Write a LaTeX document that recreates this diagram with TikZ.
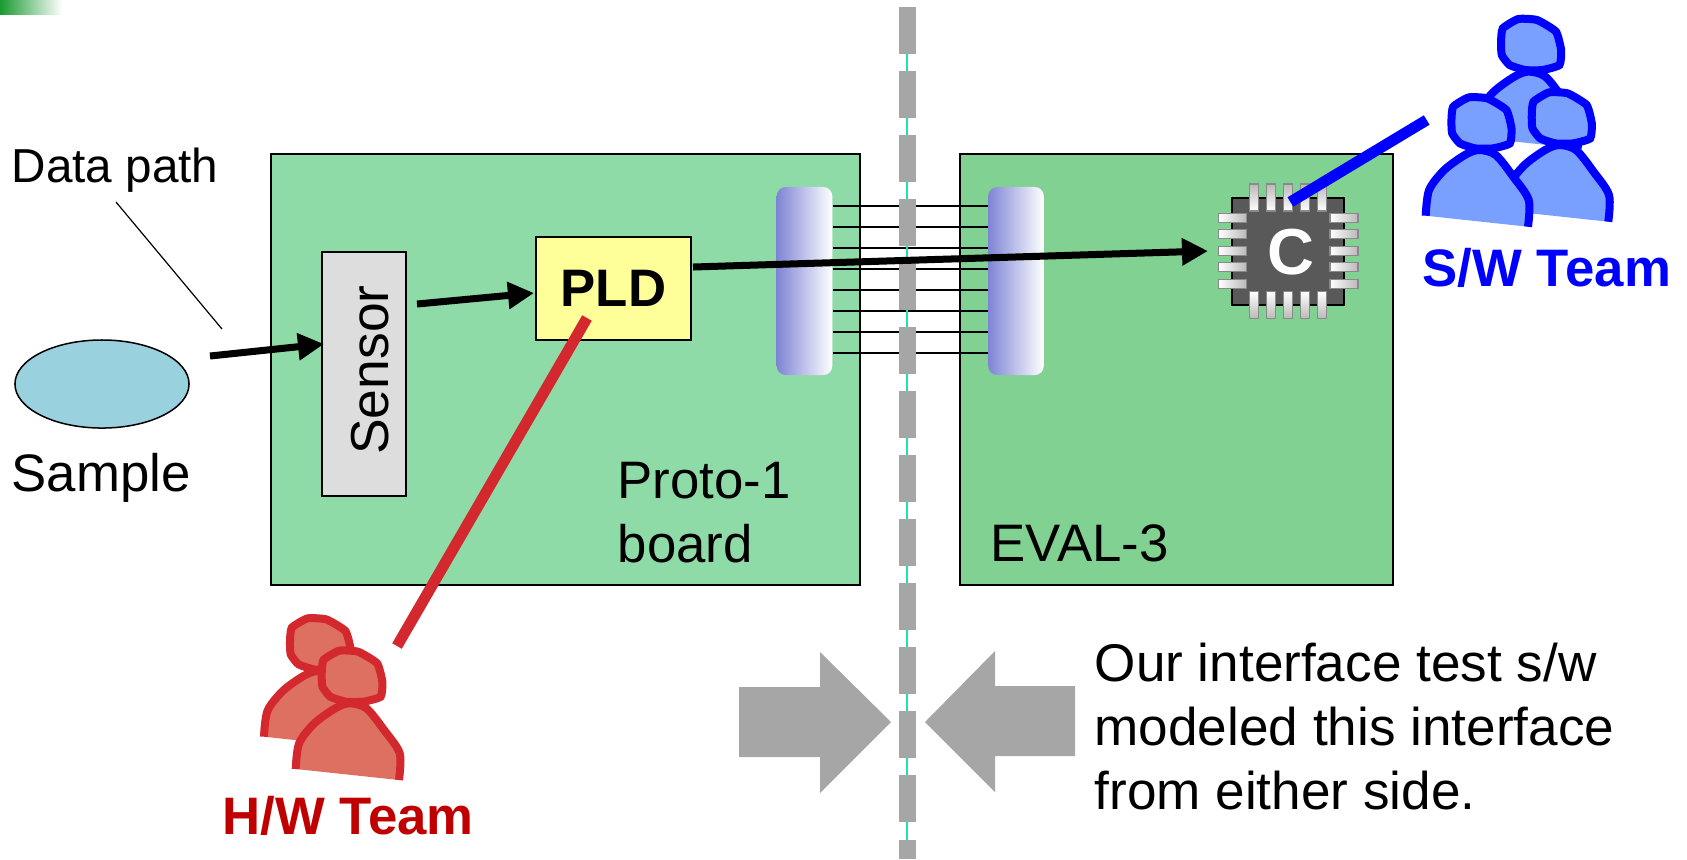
\documentclass[tikz,border=0pt]{standalone}
\usepackage{fontspec}
\setmainfont{Liberation Sans}
\usetikzlibrary{arrows.meta,shapes.geometric}
\definecolor{protogreen}{HTML}{8FDBA8}
\definecolor{evalgreen}{HTML}{80D192}
\definecolor{markgreen}{HTML}{1A9A30}
\definecolor{sampleblue}{HTML}{99D1DE}
\definecolor{blockblue}{HTML}{7F85D5}
\definecolor{sensorgrey}{HTML}{DDDDDD}
\definecolor{pldyellow}{HTML}{FFFF99}
\definecolor{splitgrey}{HTML}{A6A6A6}
\definecolor{splitcyan}{HTML}{20E0B0}
\definecolor{chipgrey}{HTML}{595959}
\definecolor{pingrey}{HTML}{8A8A8A}
\definecolor{hwred}{HTML}{D2282E}
\definecolor{hwfill}{HTML}{DD7060}
\definecolor{hwtext}{HTML}{C00000}
\definecolor{swfill}{HTML}{7AA0FF}
\tikzset{
board/.style={draw=black,line width=0.02cm,inner sep=0},
plain/.style={inner sep=0,font=\fontsize{15}{18.2}\selectfont,align=left},
team/.style={inner sep=0,anchor=base west,font=\fontsize{15}{18}\selectfont\bfseries},
block/.style={rounded corners=0.09cm,left color=blockblue,right color=white,minimum width=0.555cm,minimum height=1.88cm,inner sep=0},
wire/.style={draw=black,line width=0.015cm},
dataarrow/.style={draw=black,line width=0.07cm,-{Triangle[length=0.26cm,width=0.26cm]}},
pin/.style={draw=pingrey,line width=0.012cm,inner sep=0},
pinv/.style={pin,minimum width=0.095cm,minimum height=0.27cm},
pinh/.style={pin,minimum width=0.28cm,minimum height=0.09cm},
person/.pic={
\path[pic actions,draw=none] plot[smooth,tension=.5] coordinates {(0,0) (3.3,-25.7) (18,-45.7) (38,-60.7) (51.7,-65.7) (68,-60.7) (85,-39) (100,-15.7) (99.3,11)} -- cycle;
\path[pic actions,fill=none] plot[smooth,tension=.5] coordinates {(0,0) (3.3,-25.7) (18,-45.7) (38,-60.7) (51.7,-65.7) (68,-60.7) (85,-39) (100,-15.7) (99.3,11)};
\path[pic actions] plot[smooth cycle,tension=.3] coordinates {(25,-95.7) (26.7,-109) (41.7,-118.3) (60,-117.3) (78.3,-105.7) (83.3,-87.3) (81.7,-72.3) (65,-67.3) (48.3,-67.3) (33.3,-72.3) (25.7,-82.3)};
}
}
\begin{document}
\begin{tikzpicture}[x=0.01cm,y=-0.01cm]
\useasboundingbox (0,0) rectangle (1687,859);
\node [inner sep=0,minimum width=0.62cm,minimum height=0.14cm,left color=markgreen,right color=white] (mark) at (31,7) {};
\node [board,fill=protogreen,minimum width=5.89cm,minimum height=4.31cm] (proto) at (565.5,369.5) {};
\node [board,fill=evalgreen,minimum width=4.325cm,minimum height=4.31cm] (eval) at (1176.25,369.5) {};
\node [block] (connL) at (804.5,281) {};
\node [block] (connR) at (1016,281) {};
\foreach \y in {206,227,248,269,290,311,332,353}
  \draw [wire] (connL.east |- 0,\y) -- (connR.west |- 0,\y);
\coordinate (splitTop) at (907,7);
\coordinate (splitEnd) at (907,859);
\draw [draw=splitcyan,line width=0.012cm] (splitTop) -- (splitEnd);
\draw [draw=splitgrey,line width=0.17cm,dash pattern=on 0.47cm off 0.17cm] (splitTop) -- (splitEnd);
\node [draw=black,line width=0.015cm,fill=sampleblue,ellipse,minimum width=1.74cm,minimum height=0.88cm,inner sep=0] (sample) at (102,384) {};
\node [plain,anchor=base west] (sampleText) at (11,491) {Sample};
\node [plain,anchor=base west,font=\fontsize{13.55}{16}\selectfont] (dataText) at (11,182) {Data path};
\coordinate (leaderTop) at (116,202);
\coordinate (leaderEnd) at (222,329);
\draw [line width=0.012cm] (leaderTop) -- (leaderEnd);
\node [draw=black,line width=0.015cm,fill=sensorgrey,minimum width=0.84cm,minimum height=2.44cm,inner sep=0] (sensor) at (364,374) {};
\node [plain,rotate=90,font=\fontsize{15.2}{18}\selectfont] (sensorText) at (370,370) {Sensor};
\node [draw=black,line width=0.015cm,fill=pldyellow,minimum width=1.55cm,minimum height=1.03cm,inner sep=0,font=\fontsize{15}{18}\selectfont\bfseries] (pld) at (613.5,288.5) {PLD};
\node [plain,anchor=north west] (protoText) at (617,461) {Proto-1\\board};
\node [plain,anchor=base west] (evalText) at (990,561) {EVAL-3};
\node [minimum width=1.12cm,minimum height=1.07cm,fill=chipgrey,draw=black,line width=0.012cm,inner sep=0] (chip) at (1288,251.5) {};
\foreach \x [count=\i] in {1254,1271,1288,1305,1322} {
  \node [pinv,top color=pingrey!60,bottom color=white] (pinT\i) at (\x,197.5) {};
  \node [pinv,top color=white,bottom color=pingrey!60] (pinB\i) at (\x,305) {};
}
\foreach \y [count=\i] in {218,234,251,267,284} {
  \node [pinh,left color=white,right color=pingrey!60] (pinL\i) at (1232.5,\y) {};
  \node [pinh,left color=white,right color=pingrey!60] (pinR\i) at (1344,\y) {};
}
\node [inner sep=0,text=white,font=\fontsize{18.5}{20}\selectfont\bfseries] (chipText) at (1291,252) {C};
\coordinate (sampleOut) at (210,356);
\coordinate (sensorIn) at (324,344);
\coordinate (sensorOut) at (417,304);
\coordinate (pldIn) at (534,293);
\coordinate (pldOut) at (693,267);
\coordinate (chipIn) at (1208,251);
\draw [dataarrow] (sampleOut) -- (sensorIn);
\draw [dataarrow] (sensorOut) -- (pldIn);
\draw [dataarrow] (pldOut) -- (chipIn);
\coordinate (pldLink) at (587,318);
\coordinate (hwLink) at (397,646);
\draw [draw=hwred,line width=0.11cm] (pldLink) -- (hwLink);
\coordinate (chipLink) at (1290.4,202);
\coordinate (swLink) at (1426.7,120);
\draw [draw=blue,line width=0.11cm] (chipLink) -- (swLink);
\pic (swTop) [draw=blue,fill=swfill,line width=0.08cm,xscale=1.03] at (1475.3,137.3) {person};
\pic (swRight) [draw=blue,fill=swfill,line width=0.08cm,xscale=1.03] at (1506,210.7) {person};
\pic (swLeft) [draw=blue,fill=swfill,line width=0.08cm,xscale=1.03] at (1425.7,215.7) {person};
\node [team,text=blue] (swText) at (1422,286) {S/W Team};
\pic (hwBack) [draw=hwred,fill=hwfill,line width=0.08cm,xscale=1.04] at (264,736.7) {person};
\pic (hwFront) [draw=hwred,fill=hwfill,line width=0.08cm,xscale=1.04] at (295.7,769) {person};
\node [team,text=hwtext] (hwText) at (222,834) {H/W Team};
\fill [splitgrey] (739,687) -- (820,687) -- (820,652) -- (891,722) -- (820,793) -- (820,757) -- (739,757) -- cycle;
\fill [splitgrey] (1075,686) -- (995,686) -- (995,651) -- (925,722) -- (995,792) -- (995,756) -- (1075,756) -- cycle;
\node [plain,anchor=north west,font=\fontsize{15.1}{18.2}\selectfont] (noteText) at (1094,642) {Our interface test s/w\\modeled this interface\\from either side.};
\end{tikzpicture}
\end{document}
